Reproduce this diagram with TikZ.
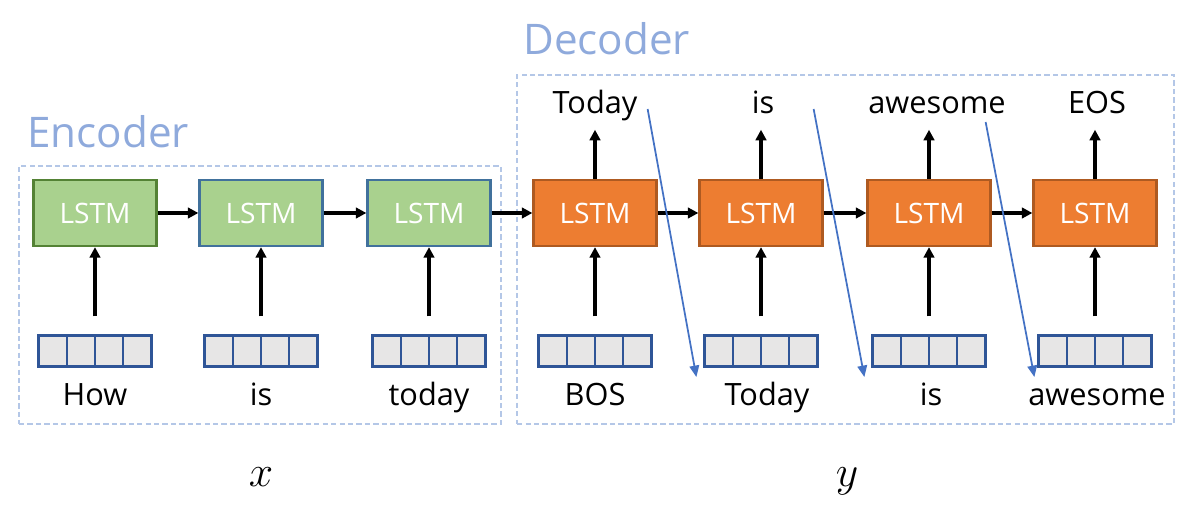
\documentclass[tikz,border=0pt]{standalone}
\usepackage{fontspec}
\setmainfont{Open Sans}
\usepackage{xcolor}
\definecolor{lstmgreen}{HTML}{A9D18E}
\definecolor{lstmgreendark}{HTML}{548235}
\definecolor{lstmblue}{HTML}{41719C}
\definecolor{lstmorange}{HTML}{ED7D31}
\definecolor{lstmorangedark}{HTML}{AE5A21}
\definecolor{cellgray}{HTML}{E7E6E6}
\definecolor{cellblue}{HTML}{2F5597}
\definecolor{groupblue}{HTML}{B4C7E7}
\definecolor{titleblue}{HTML}{8FAADC}
\definecolor{feedblue}{HTML}{4472C4}
\usetikzlibrary{arrows.meta,positioning,calc}
\tikzset{
  enccell/.style={
    draw=lstmblue, fill=lstmgreen, text=white,
    minimum width=2.46cm, minimum height=1.32cm,
    font=\fontsize{16}{18}\selectfont, line width=1.3pt, inner sep=0pt
  },
  deccell/.style={
    draw=lstmorangedark, fill=lstmorange, text=white,
    minimum width=2.46cm, minimum height=1.32cm,
    font=\fontsize{16}{18}\selectfont, line width=1.3pt, inner sep=0pt
  },
  embvec/.style={
    draw=cellblue, fill=cellgray, line width=1.3pt,
    minimum width=2.26cm, minimum height=0.62cm, inner sep=0pt,
    path picture={
      \foreach \k in {1,2,3}
        \draw[cellblue, line width=1.3pt]
          ($(path picture bounding box.south west)!\k/4!(path picture bounding box.south east)$)
          -- ($(path picture bounding box.north west)!\k/4!(path picture bounding box.north east)$);
    }
  },
  wordlabel/.style={
    anchor=base, inner sep=0pt, text depth=0.25em,
    font=\fontsize{17.5}{20}\selectfont
  },
  grouptitle/.style={
    anchor=base west, inner sep=0pt, text=titleblue,
    font=\fontsize{24}{28}\selectfont
  },
  groupbox/.style={
    draw=groupblue, line width=0.9pt, dash pattern=on 3pt off 1.8pt,
    inner sep=0pt
  },
  seqlabel/.style={anchor=base, inner sep=0pt, font=\fontsize{35}{40}\selectfont},
  steparr/.style={-{Triangle[length=6pt,width=6pt]}, line width=2pt, black},
  feedarr/.style={-{Triangle[length=6.5pt,width=5.5pt]}, line width=1pt, feedblue}
}
\begin{document}
\begin{tikzpicture}[x=0.02cm, y=-0.02cm]
  \useasboundingbox (0,0) rectangle (1196,513);

  %% ---- group frames ----
  \node[groupbox, minimum width=9.64cm, minimum height=5.16cm] (enc) at (260,295) {};
  \node[groupbox, minimum width=13.14cm, minimum height=6.98cm] (dec) at (845.5,249.5) {};
  \node[grouptitle] (enct) at (27,148) {Encoder};
  \node[grouptitle] (dect) at (523,55) {Decoder};

  %% ---- Encoder ----
  \node[enccell, draw=lstmgreendark] (e1) at (95,213) {LSTM};
  \node[enccell] (e2) at (261,213) {LSTM};
  \node[enccell] (e3) at (429,213) {LSTM};

  \node[embvec] (ev1) at (95,351) {};
  \node[embvec] (ev2) at (261,351) {};
  \node[embvec] (ev3) at (429,351) {};

  \node[wordlabel] (ei1) at (95,405) {How};
  \node[wordlabel] (ei2) at (261,405) {is};
  \node[wordlabel] (ei3) at (429,405) {today};

  %% ---- Decoder ----
  \node[deccell] (d1) at (595,213) {LSTM};
  \node[deccell] (d2) at (761,213) {LSTM};
  \node[deccell] (d3) at (929,213) {LSTM};
  \node[deccell] (d4) at (1095,213) {LSTM};

  \node[embvec] (dv1) at (595,351) {};
  \node[embvec] (dv2) at (761,351) {};
  \node[embvec] (dv3) at (929,351) {};
  \node[embvec] (dv4) at (1095,351) {};

  \node[wordlabel] (di1) at (595,405) {BOS};
  \node[wordlabel] (di2) at (767,405) {Today};
  \node[wordlabel] (di3) at (931,405) {is};
  \node[wordlabel] (di4) at (1097,405) {awesome};

  \node[wordlabel] (do1) at (595,114) {Today};
  \node[wordlabel] (do2) at (763,114) {is};
  \node[wordlabel] (do3) at (937,114) {awesome};
  \node[wordlabel] (do4) at (1097,114) {EOS};

  %% ---- x / y ----
  \node[seqlabel] (xs) at (261,486) {$x$};
  \node[seqlabel] (ys) at (847,486) {$y$};

  %% Recurrence
  \draw[steparr] (e1) -- (e2);
  \draw[steparr] (e2) -- (e3);
  \draw[steparr] (e3) -- (d1);
  \draw[steparr] (d1) -- (d2);
  \draw[steparr] (d2) -- (d3);
  \draw[steparr] (d3) -- (d4);

  %% Inputs
  \draw[steparr, shorten <=0.36cm] (ev1) -- (e1);
  \draw[steparr, shorten <=0.36cm] (ev2) -- (e2);
  \draw[steparr, shorten <=0.36cm] (ev3) -- (e3);
  \draw[steparr, shorten <=0.36cm] (dv1) -- (d1);
  \draw[steparr, shorten <=0.36cm] (dv2) -- (d2);
  \draw[steparr, shorten <=0.36cm] (dv3) -- (d3);
  \draw[steparr, shorten <=0.36cm] (dv4) -- (d4);

  %% Outputs
  \draw[steparr, shorten >=0.22cm] (d1) -- (d1 |- do1.south);
  \draw[steparr, shorten >=0.22cm] (d2) -- (d2 |- do2.south);
  \draw[steparr, shorten >=0.22cm] (d3) -- (d3 |- do3.south);
  \draw[steparr, shorten >=0.22cm] (d4) -- (d4 |- do4.south);

  %% Feeding the outputs back in
  \draw[feedarr] ($(d1.east |- do1.base)+(-10,-5)$) -- ($(d2.west |- di2.base)+(-2,-28)$);
  \draw[feedarr] ($(d2.east |- do2.base)+(-10,-5)$) -- ($(d3.west |- di3.base)+(-2,-28)$);
  \draw[feedarr] ($(d3.east |- do3.base)+(-6,8)$) -- ($(d4.west |- di4.base)+(2,-28)$);

\end{tikzpicture}
\end{document}
